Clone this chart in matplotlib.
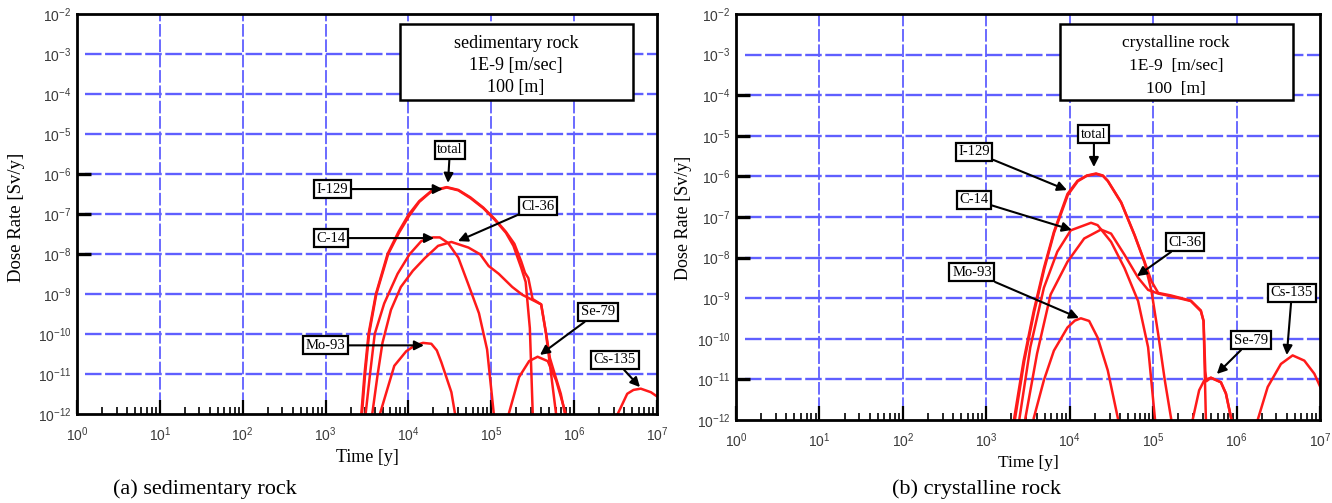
import matplotlib
matplotlib.use("Agg")
import matplotlib.pyplot as plt
from matplotlib.patches import Rectangle
from matplotlib.ticker import FixedLocator, NullLocator, LogFormatterSciNotation

plt.rcParams['font.family'] = ['Liberation Sans', 'DejaVu Sans']
plt.rcParams['mathtext.fontset'] = 'custom'
plt.rcParams['mathtext.rm'] = 'Liberation Sans'

# ---------------- data: (a) sedimentary rock ----------------
sed_total_t = [2.5e3, 2.7e3, 2.95e3, 3.3e3, 4.05e3, 5.6e3, 7.6e3, 1.0e4, 1.35e4, 1.9e4, 2.9e4, 4.0e4, 5.6e4,
               8.0e4, 1.1e5, 1.5e5, 1.9e5, 2.3e5, 2.55e5, 2.8e5, 3.15e5, 4.0e5, 4.6e5, 5.1e5, 5.75e5,
               6.9e5, 8.3e5]
sed_total_d = [5e-13, 1e-12, 1e-11, 1e-10, 1e-9, 1e-8, 3.6e-8, 9.5e-8, 2.1e-7, 3.8e-7, 4.7e-7, 4.0e-7, 2.6e-7,
               1.45e-7, 7.5e-8, 3.6e-8, 1.8e-8, 6.5e-9, 3.4e-9, 2.5e-9, 7.5e-10, 5.5e-10, 1e-10, 2.5e-11,
               1.1e-11, 3.2e-12, 5e-13]

sed_i129_t = [2.55e3, 2.75e3, 3.0e3, 3.35e3, 4.1e3, 5.7e3, 7.7e3, 1.02e4, 1.35e4, 1.9e4, 2.9e4, 4.0e4, 5.6e4,
              8.0e4, 1.1e5, 1.5e5, 1.85e5, 2.3e5, 2.6e5, 2.92e5, 3.05e5, 3.2e5]
sed_i129_d = [5e-13, 1e-12, 1e-11, 1e-10, 1e-9, 1e-8, 3.4e-8, 9e-8, 2.0e-7, 3.7e-7, 4.6e-7, 3.9e-7, 2.5e-7,
              1.4e-7, 7.2e-8, 3.4e-8, 1.6e-8, 4.5e-9, 2e-9, 1.4e-10, 1e-11, 5e-13]

sed_c14_t = [2.9e3, 3.05e3, 3.45e3, 3.92e3, 5.1e3, 7.4e3, 1.03e4, 1.43e4, 1.98e4, 2.39e4, 3.0e4, 4.0e4,
             5.25e4, 7.1e4, 8.9e4, 1.07e5, 1.1e5]
sed_c14_d = [5e-13, 1.05e-12, 1.05e-11, 1.0e-10, 5.8e-10, 3.2e-9, 9.8e-9, 2.1e-8, 2.6e-8, 2.6e-8, 1.9e-8, 8.1e-9,
             1.8e-9, 3.3e-10, 4.1e-11, 1.05e-12, 5e-13]

sed_cl36_t = [3.5e3, 3.67e3, 4.23e3, 4.86e3, 6.15e3, 8.1e3, 1.13e4, 1.57e4, 2.28e4, 3.3e4, 5.3e4, 7.35e4,
              9.3e4, 1.23e5, 1.79e5, 2.38e5, 4.0e5, 4.58e5, 5.27e5, 6.08e5, 6.3e5]
sed_cl36_d = [5e-13, 1.05e-12, 9.1e-12, 6.0e-11, 4.0e-10, 1.5e-9, 3.8e-9, 7.8e-9, 1.6e-8, 2.0e-8, 1.45e-8, 9.8e-9,
              5.0e-9, 3.2e-9, 1.5e-9, 9.5e-10, 5.5e-10, 1.0e-10, 1.0e-11, 9.3e-13, 5e-13]

sed_mo93_t = [4.4e3, 4.56e3, 6.75e3, 9.4e3, 1.2e4, 1.5e4, 1.89e4, 2.2e4, 2.5e4, 3.3e4, 3.64e4, 3.8e4]
sed_mo93_d = [5e-13, 1.05e-12, 1.6e-11, 3.7e-11, 5.2e-11, 6.0e-11, 5.7e-11, 3.9e-11, 1.95e-11, 3.5e-12,
              1.05e-12, 5e-13]

sed_se79_t = [1.55e5, 1.6e5, 2.16e5, 2.86e5, 3.62e5, 4.8e5, 6.08e5, 8.05e5, 8.3e5]
sed_se79_d = [5e-13, 9e-13, 8.3e-12, 2.1e-11, 2.7e-11, 2.1e-11, 6.8e-12, 9e-13, 5e-13]

sed_cs135_t = [3.2e6, 3.3e6, 4.37e6, 5.2e6, 6.37e6, 8.45e6, 1.07e7]
sed_cs135_d = [5e-13, 9.3e-13, 3.2e-12, 4.0e-12, 4.3e-12, 3.5e-12, 2.5e-12]

# ---------------- data: (b) crystalline rock ----------------
cry_total_t = [2.1e3, 2.16e3, 2.8e3, 3.7e3, 4.9e3, 6.46e3, 9.4e3, 1.24e4, 1.6e4, 2.07e4, 2.5e4, 2.86e4,
               4.14e4, 6.0e4, 7.9e4, 9.55e4, 1.15e5, 1.63e5, 2.83e5, 3.73e5, 4.02e5, 4.22e5, 4.35e5,
               4.92e5, 6.49e5, 7.45e5, 8.7e5, 9.0e5]
cry_total_d = [5e-13, 1.1e-12, 2.9e-11, 4.8e-10, 5.5e-9, 4.3e-8, 3.7e-7, 7.8e-7, 1.05e-6, 1.18e-6, 1.05e-6,
               7.8e-7, 2.3e-7, 3.6e-8, 7.9e-9, 2.6e-9, 1.35e-9, 1.17e-9, 8.7e-10, 5e-10, 2.75e-10, 1.6e-11,
               9e-12, 1.1e-11, 8.5e-12, 4.5e-12, 1e-12, 5e-13]

cry_i129_t = [2.15e3, 2.2e3, 2.85e3, 3.75e3, 4.95e3, 6.5e3, 9.5e3, 1.25e4, 1.6e4, 2.07e4, 2.5e4, 2.86e4,
              4.14e4, 6.0e4, 7.9e4, 9.55e4, 1.15e5, 1.38e5, 1.64e5, 1.7e5]
cry_i129_d = [5e-13, 1e-12, 2.8e-11, 4.6e-10, 5.2e-9, 4.1e-8, 3.5e-7, 7.6e-7, 1.03e-6, 1.15e-6, 1.03e-6,
              7.7e-7, 2.25e-7, 3.5e-8, 7.5e-9, 1.5e-9, 1.3e-10, 9.5e-12, 1.1e-12, 5e-13]

cry_c14_t = [2.45e3, 2.5e3, 3.37e3, 4.9e3, 7.1e3, 1.03e4, 1.8e4, 2.16e4, 3.13e4, 4.54e4, 6.6e4, 8.7e4,
             1.05e5, 1.08e5]
cry_c14_d = [5e-13, 1.1e-12, 6.2e-11, 1.8e-9, 1.4e-8, 4.7e-8, 7.2e-8, 6.3e-8, 2.45e-8, 5.5e-9, 8.5e-10, 6.2e-11,
             1.1e-12, 5e-13]

cry_cl36_t = [2.9e3, 2.94e3, 4.06e3, 5.9e3, 9.4e3, 1.49e4, 2.37e4, 3.13e4, 4.54e4, 6.6e4, 8.7e4, 1.15e5,
              1.63e5, 2.83e5, 3.73e5, 4.02e5, 4.29e5, 4.32e5]
cry_cl36_d = [5e-13, 1.1e-12, 4.3e-11, 1.23e-9, 7.9e-9, 2.95e-8, 4.9e-8, 3.9e-8, 1.17e-8, 3.2e-9, 1.6e-9, 1.3e-9,
              1.12e-9, 8.5e-10, 4.8e-10, 2.75e-10, 1e-12, 5e-13]

cry_mo93_t = [3.65e3, 3.7e3, 4.9e3, 6.46e3, 9.4e3, 1.15e4, 1.36e4, 1.71e4, 2.16e4, 2.86e4, 3.78e4, 3.85e4]
cry_mo93_d = [5e-13, 1.1e-12, 9.5e-12, 5.1e-11, 1.9e-10, 2.8e-10, 3.2e-10, 2.75e-10, 1.07e-10, 1.66e-11,
              1.1e-12, 5e-13]

cry_se79_t = [2.9e5, 2.97e5, 3.56e5, 4.1e5, 4.92e5, 6.49e5, 7.45e5, 8.7e5, 8.9e5]
cry_se79_d = [5e-13, 1e-12, 5.4e-12, 9.5e-12, 1.1e-11, 8.5e-12, 4.5e-12, 1e-12, 5e-13]

cry_cs135_t = [1.75e6, 1.79e6, 2.36e6, 3.4e6, 4.7e6, 6.49e6, 8.55e6, 1.03e7]
cry_cs135_d = [5e-13, 1e-12, 6.5e-12, 2.4e-11, 3.9e-11, 2.9e-11, 1.38e-11, 5.9e-12]

# tick values
x_decades = [1e0, 1e1, 1e2, 1e3, 1e4, 1e5, 1e6, 1e7]
y_decades = [1e-12, 1e-11, 1e-10, 1e-9, 1e-8, 1e-7, 1e-6, 1e-5, 1e-4, 1e-3, 1e-2]
x_minor = [m * d for d in x_decades[:-1] for m in range(2, 10)]
sed_marked_yticks = [1e-8, 1e-7, 1e-6]
cry_marked_yticks = [1e-11, 1e-8, 1e-7, 1e-6, 1e-5, 1e-4]

# annotation labels: (label, text position, arrow tip)
sed_labels = [
    ("total", (3.17e4, 4.0e-6), (3.0e4, 6.0e-7)),
    ("I-129", (1.2e3, 4.2e-7), (2.6e4, 4.2e-7)),
    ("Cl-36", (3.66e5, 1.58e-7), (3.96e4, 2.1e-8)),
    ("C-14", (1.16e3, 2.5e-8), (2.04e4, 2.5e-8)),
    ("Mo-93", (1.01e3, 5.2e-11), (1.54e4, 5.2e-11)),
    ("Se-79", (1.94e6, 3.55e-10), (3.87e5, 3.0e-11)),
    ("Cs-135", (3.11e6, 2.24e-11), (6.23e6, 4.7e-12)),
]
cry_labels = [
    ("total", (1.95e4, 1.1e-5), (1.95e4, 1.7e-6)),
    ("I-129", (7.13e2, 4.0e-6), (9.27e3, 4.6e-7)),
    ("C-14", (7.13e2, 2.63e-7), (1.06e4, 4.8e-8)),
    ("Cl-36", (2.41e5, 2.42e-8), (6.4e4, 3.5e-9)),
    ("Mo-93", (6.74e2, 4.4e-9), (1.29e4, 3.25e-10)),
    ("Se-79", (1.49e6, 9.3e-11), (5.8e5, 1.36e-11)),
    ("Cs-135", (4.6e6, 1.35e-9), (4.0e6, 3.98e-11)),
]

sed_info = ["sedimentary rock", "1E-9 [m/sec]", "100 [m]"]
cry_info = ["crystalline rock", "1E-9  [m/sec]", "100  [m]"]

W, H = 1332, 503
fig = plt.figure(figsize=(W / 100, H / 100), dpi=100)
fig.patch.set_facecolor('white')

ax1 = fig.add_axes([77 / W, 1 - 414 / H, 580 / W, 400 / H])
ax2 = fig.add_axes([736 / W, 1 - 420 / H, 584 / W, 406 / H])

GRID_C = '#5f5fff'
RED = '#ff1a1a'
SERIF = ['Liberation Serif', 'DejaVu Serif']


def style_axes(ax, hgrid_xmin, vgrid_ymin, marked):
    ax.set_xscale('log')
    ax.set_yscale('log')
    ax.set_xlim(x_decades[0], x_decades[-1])
    ax.set_ylim(y_decades[0], y_decades[-1])
    ax.xaxis.set_major_locator(FixedLocator(x_decades))
    ax.xaxis.set_minor_locator(FixedLocator(x_minor))
    ax.yaxis.set_major_locator(FixedLocator(y_decades))
    ax.yaxis.set_minor_locator(NullLocator())
    ax.xaxis.set_major_formatter(LogFormatterSciNotation())
    ax.yaxis.set_major_formatter(LogFormatterSciNotation())
    ax.tick_params(which='major', direction='in', length=10, width=1.6, labelsize=10,
                   labelcolor='#3a3a3a', top=False, right=False, pad=8)
    ax.tick_params(which='minor', direction='in', length=5, width=1.2, top=False, right=False)
    ax.tick_params(axis='y', which='major', length=10, width=2.4, pad=4)
    for v, tk in zip(y_decades, ax.yaxis.get_major_ticks()):
        tk.tick1line.set_visible(v in marked)
    for s in ax.spines.values():
        s.set_linewidth(2.0)
        s.set_color('black')
        s.set_zorder(5)
    for v in y_decades[1:-1]:
        ax.axhline(v, xmin=hgrid_xmin, xmax=1, color=GRID_C, lw=1.7,
                   ls=(0, (7, 1.5)), zorder=1)
    for v in x_decades[1:-1]:
        ax.axvline(v, ymin=vgrid_ymin, ymax=1, color=GRID_C, lw=1.3,
                   ls=(0, (7, 1.5)), zorder=1)


def draw_series(ax, series):
    for t, d in series:
        ax.plot(t, d, color=RED, lw=1.8, zorder=3, solid_joinstyle='round')


def draw_labels(ax, labels):
    for name, txt, tip in labels:
        ax.annotate(name, xy=tip, xytext=txt, xycoords='data', textcoords='data',
                    ha='center', va='center', fontsize=10.5, family=SERIF, zorder=6,
                    bbox=dict(boxstyle='square,pad=0.18', fc='white', ec='black', lw=1.6),
                    arrowprops=dict(arrowstyle='-|>', color='black', lw=1.5,
                                    mutation_scale=14, shrinkA=0, shrinkB=0),
                    annotation_clip=False)


def draw_info(ax, box, lines, ys, xc, fs):
    ax.add_patch(Rectangle((box[0], box[1]), box[2] - box[0], box[3] - box[1],
                           transform=ax.transAxes, fc='white', ec='black', lw=1.8, zorder=6))
    for line, y in zip(lines, ys):
        ax.text(xc, y, line, transform=ax.transAxes, ha='center', va='center',
                fontsize=fs, family=SERIF, zorder=7)


style_axes(ax1, 0.014, 0.022, sed_marked_yticks)
style_axes(ax2, 0.016, 0.025, cry_marked_yticks)

draw_series(ax1, [(sed_total_t, sed_total_d), (sed_i129_t, sed_i129_d), (sed_c14_t, sed_c14_d),
                  (sed_cl36_t, sed_cl36_d), (sed_mo93_t, sed_mo93_d), (sed_se79_t, sed_se79_d),
                  (sed_cs135_t, sed_cs135_d)])
draw_series(ax2, [(cry_total_t, cry_total_d), (cry_i129_t, cry_i129_d), (cry_c14_t, cry_c14_d),
                  (cry_cl36_t, cry_cl36_d), (cry_mo93_t, cry_mo93_d), (cry_se79_t, cry_se79_d),
                  (cry_cs135_t, cry_cs135_d)])

draw_labels(ax1, sed_labels)
draw_labels(ax2, cry_labels)

draw_info(ax1, (0.557, 0.785, 0.959, 0.975), sed_info, (0.927, 0.872, 0.817), 0.757, 13)
draw_info(ax2, (0.555, 0.788, 0.954, 0.975), cry_info, (0.929, 0.872, 0.815), 0.753, 12.5)

# axis titles and captions
fig.text(17 / W, 1 - 217 / H, "Dose Rate [Sv/y]", rotation=90, ha='center', va='center',
         fontsize=13.5, family=SERIF)
fig.text(683 / W, 1 - 218 / H, "Dose Rate [Sv/y]", rotation=90, ha='center', va='center',
         fontsize=13, family=SERIF)
fig.text(367 / W, 1 - 458 / H, "Time [y]", ha='center', va='center', fontsize=13, family=SERIF)
fig.text(1028 / W, 1 - 463 / H, "Time [y]", ha='center', va='center', fontsize=12.5, family=SERIF)
fig.text(205 / W, 1 - 489 / H, "(a) sedimentary rock", ha='center', va='center',
         fontsize=16, family=SERIF)
fig.text(976 / W, 1 - 489 / H, "(b) crystalline rock", ha='center', va='center',
         fontsize=16, family=SERIF)

fig.savefig("out.png", dpi=100, facecolor='white')
